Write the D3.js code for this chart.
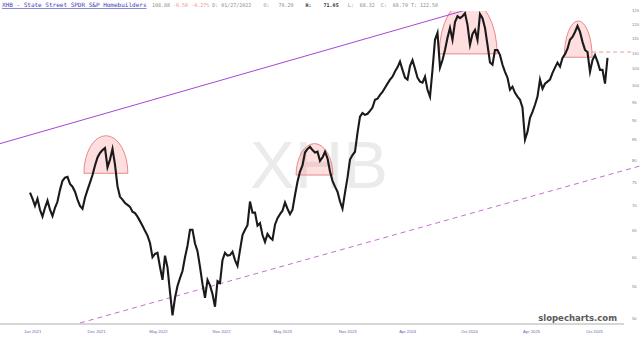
<html>
  <head>
    <title>XHB</title>
    <script src="https://cdn.jsdelivr.net/npm/d3@7"></script>
    <style>
      body { margin: 0; background: #fff; }
    </style>
  </head>
  <body>
    <script>
// weekly closes, first week starts 27 May 2021
const startDate = "2021-05-27";
const closes = [
  72.6, 71.3, 69.8, 71.3, 69.0, 67.6, 69.4, 70.9, 69.0, 67.7,
  69.4, 70.7, 73.2, 75.2, 75.9, 76.1, 74.5, 73.9, 72.8, 71.1,
  69.8, 69.2, 71.5, 73.2, 74.8, 76.5, 78.7, 80.6, 81.7, 82.4,
  82.9, 78.3, 80.1, 82.7, 78.9, 74.0, 71.7, 71.1, 70.4, 70.0,
  69.6, 68.6, 68.3, 67.6, 66.7, 65.8, 64.8, 63.9, 62.5, 59.9,
  60.5, 60.7, 58.2, 56.0, 60.2, 58.1, 54.0, 50.4, 53.1, 55.0,
  56.3, 57.5, 59.9, 62.0, 65.0, 65.0, 62.4, 61.0, 58.2, 55.3,
  53.1, 56.0, 55.1, 53.7, 51.7, 55.8, 55.5, 59.4, 60.7, 60.2,
  60.3, 60.9, 59.4, 58.4, 61.2, 64.0, 65.0, 65.9, 70.7, 68.4,
  68.4, 65.8, 66.3, 64.0, 62.7, 64.2, 63.5, 63.1, 66.0, 67.3,
  68.1, 68.8, 70.5, 69.2, 68.1, 69.0, 72.1, 75.0, 77.3, 78.7,
  81.8, 82.7, 83.2, 82.4, 81.8, 82.0, 79.8, 80.6, 82.0, 80.4,
  77.3, 75.2, 73.9, 72.8, 70.7, 69.2, 72.6, 75.9, 80.1, 81.2,
  82.0, 86.7, 91.0, 92.0, 91.5, 91.8, 92.6, 93.5, 95.7, 96.0,
  97.1, 98.0, 99.2, 100.4, 101.6, 102.5, 104.1, 105.4, 107.2, 104.6,
  102.2, 101.6, 105.8, 107.7, 105.0, 102.2, 101.0, 100.7, 102.5, 98.6,
  96.6, 104.6, 114.4, 116.8, 105.3, 107.7, 111.0, 115.1, 118.5, 114.4,
  120.6, 122.7, 122.0, 122.7, 123.8, 119.6, 112.7, 116.4, 117.8, 114.4,
  123.5, 122.0, 118.5, 112.7, 106.9, 106.2, 111.0, 111.0, 109.3, 106.2,
  104.0, 102.2, 98.6, 99.5, 97.7, 96.6, 95.7, 93.5, 85.0, 87.0,
  90.7, 92.3, 94.3, 96.6, 101.6, 98.9, 100.4, 101.0, 101.6, 103.7,
  105.3, 106.9, 105.6, 108.4, 109.6, 111.4, 114.4, 115.4, 117.1, 119.2,
  117.1, 113.7, 111.0, 110.3, 104.0, 107.7, 109.3, 107.2, 104.6, 104.6,
  100.4, 108.4
];

const priceTicks = [50, 55, 60, 65, 70, 75, 80, 85, 90, 95, 100, 105, 110, 115, 120, 125];
const dateTicks = ["2021-06-02", "2021-11-28", "2022-05-20", "2022-11-13", "2023-05-03",
                   "2023-11-01", "2024-04-17", "2024-10-07", "2025-03-30", "2025-09-22"];
const dateLabels = ["Jun 2021", "Dec 2021", "May 2022", "Nov 2022", "May 2023",
                    "Nov 2023", "Apr 2024", "Oct 2024", "Apr 2025", "Oct 2025"];

// drawn annotations (date, price)
const domeFrom = ["2021-10-25", "2023-06-11", "2024-07-16", "2025-07-01"];
const domeTo   = ["2022-02-25", "2023-09-22", "2024-12-25", "2025-09-17"];
const domeBase = [76.9, 76.5, 109.7, 108.6];
const domeTop  = [86.0, 84.0, 128.8, 121.0];

const upperTrend = [["2021-03-04", 84.0], ["2024-09-26", 124.9]];
const lowerTrend = [["2021-10-14", 49.26], ["2026-01-29", 78.6]];
const resistance = [["2025-09-17", 110.3], ["2026-01-10", 110.3]];

const w = 640;
const h = 339;
const parse = d3.timeParse("%Y-%m-%d");
const start = parse(startDate);
const dates = closes.map((c, i) => d3.timeDay.offset(start, i * 7));

const x = d3.scaleTime()
  .domain([start, dates[dates.length - 1]])
  .range([30, 607.5]);
const y = d3.scaleLog()
  .domain([50, 125])
  .range([318, 10]);

const svg = d3.select("body")
  .append("svg")
  .attr("width", w)
  .attr("height", h)
  .style("font-family", "'DejaVu Sans', sans-serif");

svg.append("clipPath").attr("id", "plot")
  .append("rect").attr("x", 0).attr("y", 11).attr("width", w).attr("height", 313);

// watermark
svg.append("text")
  .attr("x", 319).attr("y", 188)
  .attr("text-anchor", "middle")
  .attr("font-family", "'Liberation Sans', Arial, sans-serif")
  .attr("font-size", 67)
  .attr("fill", "#ebebeb")
  .text("XHB");

const plot = svg.append("g").attr("clip-path", "url(#plot)");

// domes
domeFrom.forEach(function(f, i) {
  const x0 = x(parse(f)), x1 = x(parse(domeTo[i]));
  const yb = y(domeBase[i]), yt = y(domeTop[i]);
  const rx = (x1 - x0) / 2, ry = yb - yt;
  plot.append("path")
    .attr("d", "M" + x0 + "," + yb + " A" + rx + "," + ry + " 0 0 1 " + x1 + "," + yb + " Z")
    .attr("fill", "rgba(250, 90, 90, 0.2)")
    .attr("stroke", "#e27070")
    .attr("stroke-width", 0.8);
});

const seg = d3.line()
  .x(d => x(parse(d[0])))
  .y(d => y(d[1]));

plot.append("path")
  .attr("d", seg(upperTrend))
  .attr("fill", "none")
  .attr("stroke", "#a646d8")
  .attr("stroke-width", 1);

plot.append("path")
  .attr("d", seg(lowerTrend))
  .attr("fill", "none")
  .attr("stroke", "#c45ad0")
  .attr("stroke-width", 0.9)
  .attr("stroke-dasharray", "5,4");

plot.append("path")
  .attr("d", seg(resistance))
  .attr("fill", "none")
  .attr("stroke", "#eb9090")
  .attr("stroke-width", 0.9)
  .attr("stroke-dasharray", "4,3");

// price
const line = d3.line()
  .x((d, i) => x(dates[i]))
  .y(d => y(d));
plot.append("path")
  .datum(closes)
  .attr("d", line)
  .attr("fill", "none")
  .attr("stroke", "#1a1a1a")
  .attr("stroke-width", 2.1)
  .attr("stroke-linejoin", "miter")
  .attr("stroke-miterlimit", 6);

// bottom axis
svg.append("line")
  .attr("x1", 0).attr("x2", 624)
  .attr("y1", 324).attr("y2", 324)
  .attr("stroke", "#c8c8c8")
  .attr("stroke-width", 1.5);

const xAxis = d3.axisBottom(x)
  .tickValues(dateTicks.map(parse))
  .tickSize(0)
  .tickFormat((d, i) => dateLabels[i]);
const gx = svg.append("g")
  .attr("transform", "translate(0,327)")
  .call(xAxis);
gx.select(".domain").remove();
gx.selectAll("text")
  .attr("font-size", 4.2)
  .attr("fill", "#6a6ab0");

const yAxis = d3.axisRight(y)
  .tickValues(priceTicks)
  .tickSize(0)
  .tickFormat(d3.format("d"));
const gy = svg.append("g")
  .attr("transform", "translate(629,0)")
  .call(yAxis);
gy.select(".domain").remove();
gy.selectAll("text")
  .attr("font-size", 4.2)
  .attr("fill", "#7a7aa8");

// header
svg.append("text")
  .attr("x", 2).attr("y", 7)
  .attr("font-family", "'DejaVu Sans Mono', monospace")
  .attr("font-size", 6)
  .attr("fill", "#3d3db8")
  .attr("text-decoration", "underline")
  .text("XHB - State Street SPDR S&P Homebuilders");

const head = svg.append("text")
  .attr("x", 152).attr("y", 7)
  .attr("font-family", "'DejaVu Sans Mono', monospace")
  .attr("font-size", 5)
  .attr("fill", "#8a8a8a")
  .attr("xml:space", "preserve")
  .style("white-space", "pre");
head.append("tspan").text("108.88 ");
head.append("tspan").attr("fill", "#f09090").text("-0.50 -0.27%");
head.append("tspan").text(" D: 01/27/2022    O:   70.29    ");
head.append("tspan").attr("fill", "#333").attr("font-weight", "bold").text("H:    71.05");
head.append("tspan").text("   L:  68.32  C:  68.70 T: 122.50");

svg.append("text")
  .attr("x", 617).attr("y", 321)
  .attr("text-anchor", "end")
  .attr("font-weight", "bold")
  .attr("font-size", 8.5)
  .attr("fill", "#5a5a5a")
  .text("slopecharts.com");
    </script>
  </body>
</html>
